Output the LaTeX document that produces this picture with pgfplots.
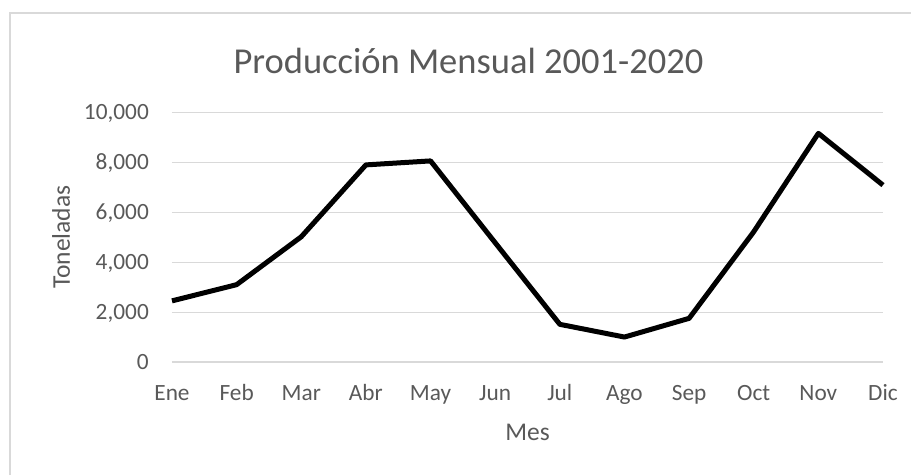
\documentclass[border=0pt]{standalone}
\usepackage{pgfplots}
\pgfplotsset{compat=1.18}
\usepackage{fontspec}
\setmainfont{Carlito}
\definecolor{gridgray}{HTML}{D9D9D9}
\definecolor{txtgray}{HTML}{595959}

\pgfplotstableread{
x  val
0  2450
1  3100
2  5020
3  7900
4  8060
5  4780
6  1510
7  1000
8  1750
9  5220
10 9165
11 7090
}\produccion

\begin{document}
\begin{tikzpicture}
  \useasboundingbox (0,0) rectangle (911pt,-475pt);
  % chart frame (cropped)
  \draw[gridgray,line width=1.5pt] (10pt,-475pt) -- (10pt,-13pt) -- (911pt,-13pt);
  \begin{axis}[
    at={(172pt,-362pt)}, anchor=origin,
    scale only axis, width=711pt, height=249.5pt,
    xmin=0, xmax=11, ymin=0, ymax=10000,
    xtick={0,...,11},
    xticklabels={Ene,Feb,Mar,Abr,May,Jun,Jul,Ago,Sep,Oct,Nov,Dic},
    ytick={0,2000,...,10000},
    scaled y ticks=false,
    axis line style={draw=none},
    major tick length=0pt,
    ymajorgrids, grid style={gridgray,line width=1.2pt},
    /pgf/number format/.cd, fixed, 1000 sep={,}, assume math mode=true,
    /pgfplots/.cd,
    ticklabel style={font=\fontsize{23.3}{28}\selectfont, text=txtgray, inner sep=0pt},
    xticklabel style={anchor=base, yshift=-38.7pt},
    yticklabel style={anchor=base east, xshift=-23pt, yshift=-7.4pt},
    xlabel={Mes}, ylabel={Toneladas},
    every axis x label/.style={at={(axis description cs:0.5,0)}, anchor=base, yshift=-78pt,
      font=\fontsize{25.5}{30}\selectfont, text=txtgray, inner sep=0pt},
    every axis y label/.style={at={(axis description cs:-0.14346,0.5)}, rotate=90, anchor=base,
      font=\fontsize{25.5}{30}\selectfont, text=txtgray, inner sep=0pt},
    clip=false,
  ]
  \addplot[black, line width=5pt, line join=round, mark=none] table[x=x, y=val] {\produccion};
  \end{axis}
  \node[anchor=base, inner sep=0pt, text=txtgray, font=\fontsize{36.5}{44}\selectfont] at (468.5pt,-73pt) {Producción Mensual 2001-2020};
\end{tikzpicture}
\end{document}
